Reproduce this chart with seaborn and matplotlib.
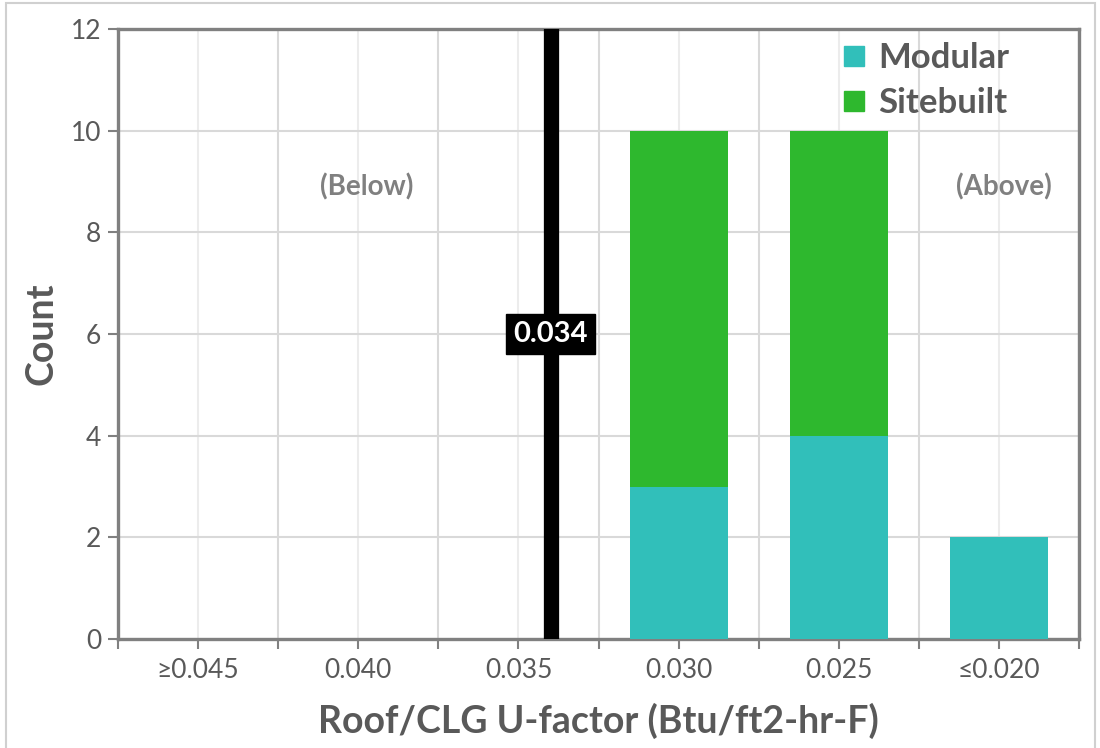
import matplotlib
matplotlib.use("Agg")
import matplotlib.pyplot as plt
from matplotlib.patches import Rectangle
from matplotlib.lines import Line2D
from matplotlib.ticker import FixedLocator, MultipleLocator
import seaborn as sns
import pandas as pd

# U-factor bins (high to low) and counts per construction type
bins = ["\u22650.045", "0.040", "0.035", "0.030", "0.025", "\u22640.020"]
bin_values = [0.045, 0.040, 0.035, 0.030, 0.025, 0.020]
modular = [0, 0, 0, 3, 4, 2]
sitebuilt = [0, 0, 0, 7, 6, 0]
code_value = 0.034

teal = "#31BFBA"
green = "#2EB82E"
text_gray = "#595959"
axis_gray = "#808080"

sns.set_theme(style="white")
plt.rcParams["font.family"] = ["Lato", "DejaVu Sans"]

fig = plt.figure(figsize=(11, 7.48), dpi=100)
ax = fig.add_axes([0.1073, 0.1457, 0.8737, 0.8155])

df = pd.DataFrame({"bin": bins, "Modular": modular, "Sitebuilt": sitebuilt})
df["total"] = df["Modular"] + df["Sitebuilt"]

sns.barplot(data=df, x="bin", y="total", color=green, saturation=1,
            width=0.61, ax=ax, zorder=3)
sns.barplot(data=df, x="bin", y="Modular", color=teal, saturation=1,
            width=0.61, ax=ax, zorder=4)
for p in ax.patches:
    p.set_linewidth(0)

ax.set_xlim(-0.5, len(bins) - 0.5)
ax.set_ylim(0, 12)
ax.yaxis.set_major_locator(MultipleLocator(2))

# ticks and gridlines at bin centres and bin boundaries
centers = list(range(len(bins)))
edges = [i - 0.5 for i in range(len(bins) + 1)]
ax.xaxis.set_major_locator(FixedLocator(centers))
ax.xaxis.set_minor_locator(FixedLocator(edges))
ax.set_xticklabels(bins)
ax.grid(axis="y", color="#d9d9d9", linewidth=1.5, zorder=0)
ax.grid(axis="x", which="major", color="#ececec", linewidth=1.5, zorder=0)
ax.grid(axis="x", which="minor", color="#d9d9d9", linewidth=1.5, zorder=0)
ax.set_axisbelow(True)

ax.tick_params(axis="x", which="both", direction="out", length=7, width=1.5,
               color=axis_gray, bottom=True, labelsize=19, labelcolor=text_gray, pad=7)
ax.tick_params(axis="y", which="major", direction="out", length=7, width=1.5,
               color=axis_gray, left=True, labelsize=19, labelcolor=text_gray, pad=5)

for s in ax.spines.values():
    s.set_color(axis_gray)
    s.set_linewidth(2.4)
    s.set_visible(True)

ax.set_xlabel("Roof/CLG U-factor (Btu/ft2-hr-F)", fontsize=27, fontweight="bold",
              color=text_gray, labelpad=14)
ax.set_ylabel("Count", fontsize=27, fontweight="bold", color=text_gray, labelpad=9)

# code requirement line, positioned between bins by its U-factor
step = bin_values[0] - bin_values[1]
code_x = (bin_values[0] - code_value) / step
ax.axvline(code_x, color="black", linewidth=11, zorder=5)
ax.text(code_x, 6, f"{code_value:.3f}", ha="center", va="center", fontsize=21,
        fontweight="bold", color="white", zorder=6,
        bbox=dict(boxstyle="square,pad=0.25", fc="black", ec="black"))

ax.text(1.05, 8.9, "(Below)", ha="center", va="center", fontsize=20,
        fontweight="bold", color=axis_gray)
ax.text(5.03, 8.9, "(Above)", ha="center", va="center", fontsize=20,
        fontweight="bold", color=axis_gray)

handles = [Line2D([], [], marker="s", linestyle="none", markersize=15,
                  markerfacecolor=c, markeredgecolor=c) for c in (teal, green)]
leg = ax.legend(handles, ["Modular", "Sitebuilt"], loc="upper right",
                bbox_to_anchor=(0.96, 1.03), frameon=False, handlelength=0.8,
                handletextpad=0.3, labelspacing=0.37, prop={"size": 25, "weight": "bold"})
for t in leg.get_texts():
    t.set_color(text_gray)

fig.patches.append(Rectangle((0.005, -0.01), 0.99, 1.006, transform=fig.transFigure,
                             fill=False, edgecolor="#d0d0d0", linewidth=1.5))

fig.savefig("out.png", dpi=100)
